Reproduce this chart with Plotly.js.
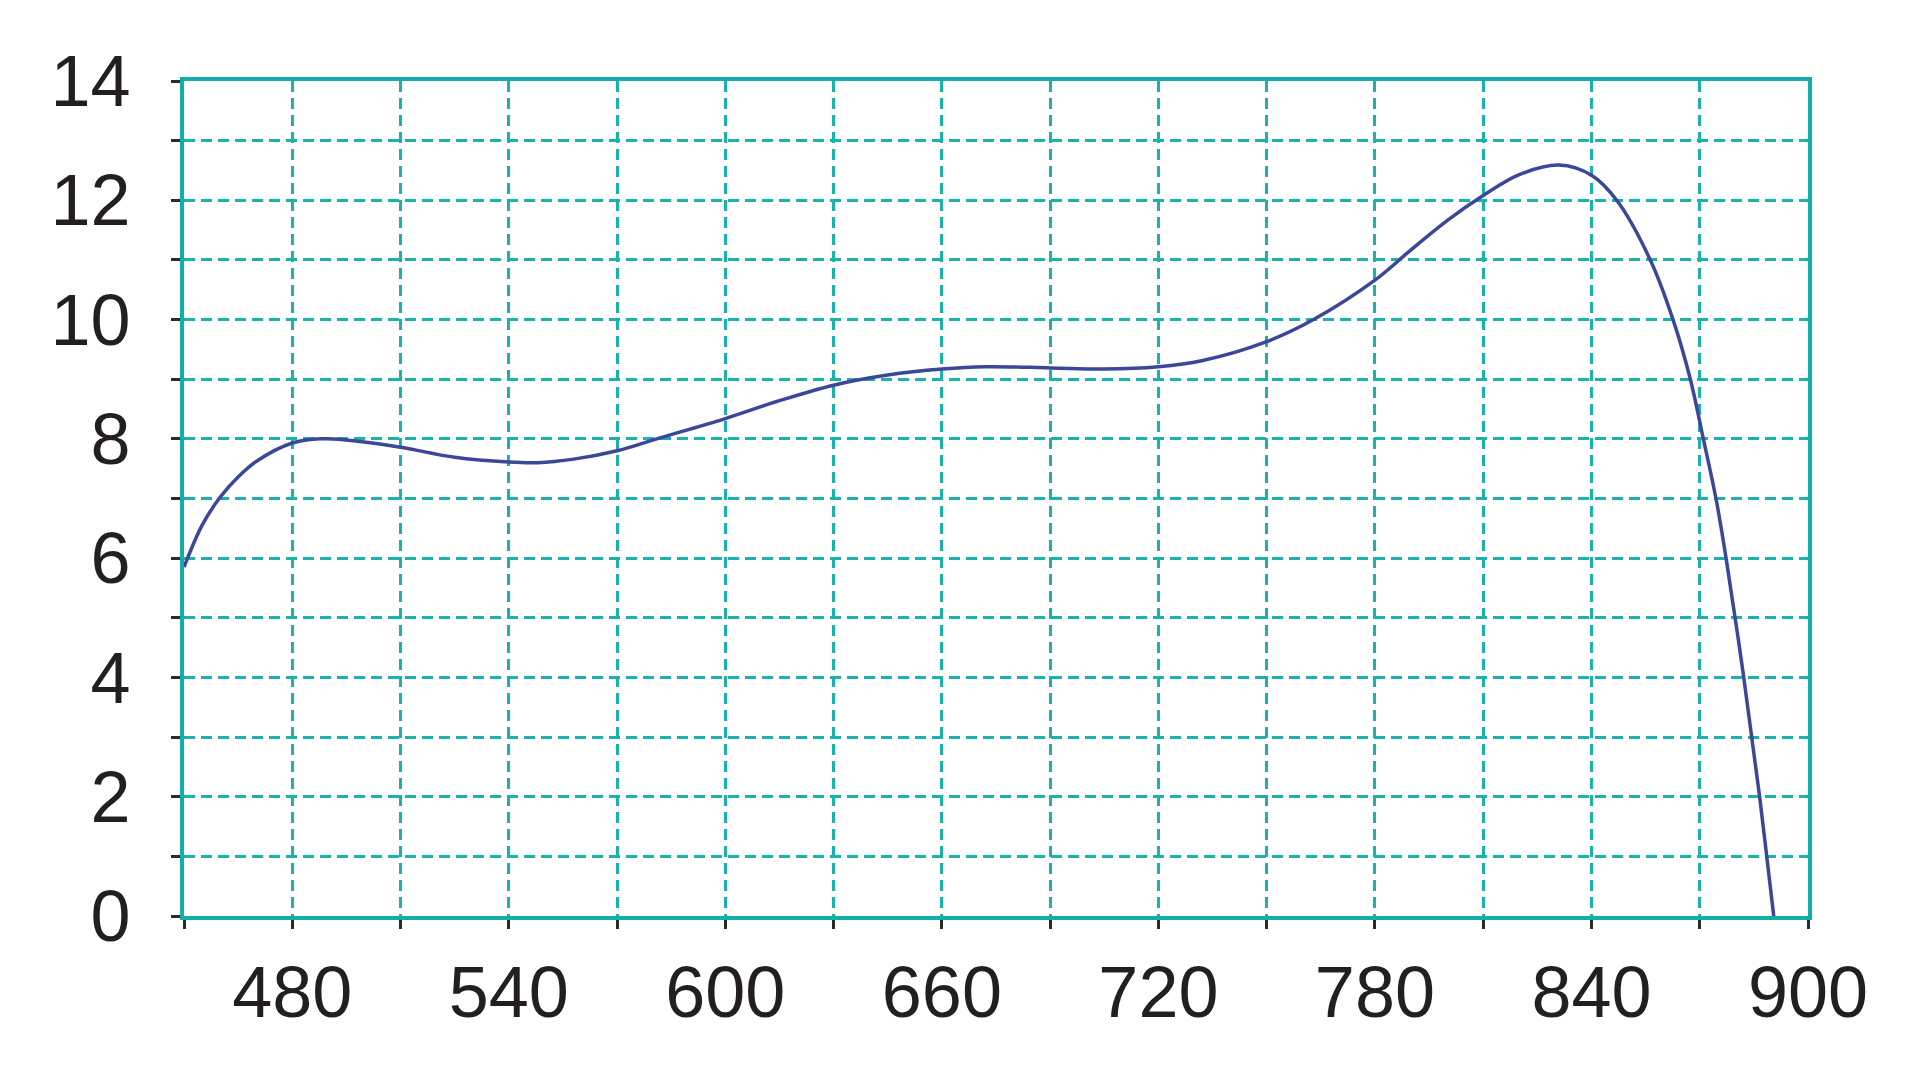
<!DOCTYPE html>
<html>
<head>
<meta charset="utf-8">
<script src="https://cdn.plot.ly/plotly-3.0.1.min.js"></script>
<style>
html,body{margin:0;padding:0;background:#fff;}
#chart{width:1920px;height:1080px;}
</style>
</head>
<body>
<div id="chart"></div>
<script>
// Wavelength (x) and response values (y)
const wavelength = [450, 455, 460, 465, 470, 480, 488, 495, 510, 525, 540, 548, 558, 570, 581, 600, 615, 630, 645, 660, 672, 690, 705, 720, 732, 750, 763, 780, 790, 800, 810, 820, 831, 840, 847, 856.3, 862.6, 867.4, 871, 874.5, 877.3, 882.2, 886.6, 890.5, 891];
const response   = [5.85, 6.55, 7.02, 7.36, 7.62, 7.93, 8.0, 7.98, 7.86, 7.69, 7.61, 7.6, 7.66, 7.8, 8.0, 8.34, 8.64, 8.9, 9.07, 9.17, 9.21, 9.19, 9.17, 9.21, 9.31, 9.63, 10.0, 10.66, 11.17, 11.66, 12.08, 12.43, 12.59, 12.42, 12.0, 11.0, 10.0, 9.0, 8.0, 7.0, 6.0, 4.0, 2.0, 0.0, -0.2];

const xTickVals = [450, 480, 510, 540, 570, 600, 630, 660, 690, 720, 750, 780, 810, 840, 870, 900];
const xTickText = ['', '480', '', '540', '', '600', '', '660', '', '720', '', '780', '', '840', '', '900'];
const yTickVals = [0, 1, 2, 3, 4, 5, 6, 7, 8, 9, 10, 11, 12, 13, 14];
const yTickText = ['0', '', '2', '', '4', '', '6', '', '8', '', '10', '', '12', '', '14'];

const teal = '#12aea8';
const gridTeal = '#1ab2ac';
const tickDark = '#2a2a2a';

const trace = {
  x: wavelength,
  y: response,
  type: 'scatter',
  mode: 'lines',
  line: {color: '#3b4799', width: 3.5, shape: 'spline', smoothing: 1.0},
  hoverinfo: 'x+y'
};

const axisCommon = {
  showline: true,
  linecolor: teal,
  linewidth: 4,
  mirror: true,
  showgrid: true,
  gridcolor: gridTeal,
  gridwidth: 3,
  griddash: '11px,6px',
  zeroline: false,
  ticks: 'outside',
  ticklen: 9,
  tickwidth: 3,
  tickcolor: tickDark,
  tickmode: 'array',
  tickfont: {family: 'Liberation Sans, Arial, sans-serif', size: 72, color: '#231f20'}
};

const layout = {
  width: 1920,
  height: 1080,
  paper_bgcolor: '#ffffff',
  plot_bgcolor: '#ffffff',
  showlegend: false,
  margin: {l: 184, r: 112, t: 81, b: 164, pad: 0},
  xaxis: Object.assign({}, axisCommon, {
    range: [450, 900],
    tickvals: xTickVals,
    ticktext: xTickText,
    ticklabelstandoff: 2
  }),
  yaxis: Object.assign({}, axisCommon, {
    range: [0, 14],
    tickvals: yTickVals,
    ticktext: yTickText,
    ticklabelstandoff: 26
  })
};

Plotly.newPlot('chart', [trace], layout, {displayModeBar: false, staticPlot: true});
</script>
</body>
</html>
